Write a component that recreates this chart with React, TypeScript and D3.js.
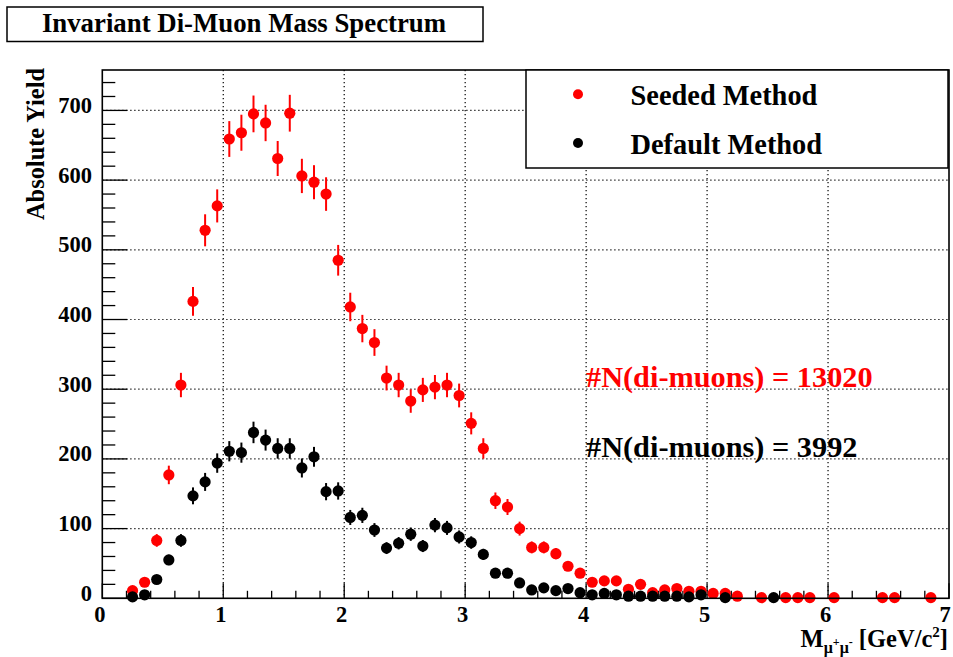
import React from "react";
import * as d3 from "d3";

// Bin centers (GeV/c^2) and yields
const seededX = [0.25,0.35,0.45,0.55,0.65,0.75,0.85,0.95,1.05,1.15,1.25,1.35,1.45,1.55,1.65,1.75,1.85,1.95,2.05,2.15,2.25,2.35,2.45,2.55,2.65,2.75,2.85,2.95,3.05,3.15,3.25,3.35,3.45,3.55,3.65,3.75,3.85,3.95,4.05,4.15,4.25,4.35,4.45,4.55,4.65,4.75,4.85,4.95,5.05,5.15,5.25,5.45,5.65,5.75,5.85,6.05,6.45,6.55,6.85];
const seededY = [11,23,83,177,306,426,528,563,659,668,695,682,631,696,606,597,580,485,418,387,367,316,306,283,299,303,306,291,251,215,140,131,100,73,73,64,46,36,23,25,25,13,20,8,12,14,10,10,7,7,3,1,1,1,1,1,1,1,1];

const defaultX = [0.25,0.35,0.45,0.55,0.65,0.75,0.85,0.95,1.05,1.15,1.25,1.35,1.45,1.55,1.65,1.75,1.85,1.95,2.05,2.15,2.25,2.35,2.45,2.55,2.65,2.75,2.85,2.95,3.05,3.15,3.25,3.35,3.45,3.55,3.65,3.75,3.85,3.95,4.05,4.15,4.25,4.35,4.45,4.55,4.65,4.75,4.85,4.95,5.15,5.55];
const defaultY = [2,5,27,55,83,147,167,194,211,209,238,227,215,215,187,203,153,154,116,119,98,72,79,92,75,105,101,88,80,63,36,36,22,12,15,11,14,8,5,7,5,3,3,3,3,3,2,5,1,1];

const xTicks = [0,1,2,3,4,5,6,7];
const yTicks = [0,100,200,300,400,500,600,700];
const xMinor = d3.range(0, 7.0001, 0.2);
const yMinor = d3.range(0, 751, 20);

const titleText = "Invariant Di-Muon Mass Spectrum";
const legendLabels = ["Seeded Method", "Default Method"];
const countLabels = ["#N(di-muons) = 13020", "#N(di-muons) = 3992"];

const FONT = "'Liberation Serif', 'Times New Roman', Tinos, serif";

export default function App() {
  const W = 953, H = 657;
  const left = 102.3, right = 949, top = 70, bottom = 598.3;
  const x = d3.scaleLinear().domain([0, 7]).range([left, right]);
  const y = d3.scaleLinear().domain([0, 758]).range([bottom, top]);
  const r = 5.6;
  const tf = (size: number, color = "#000") => ({ fontFamily: FONT, fontWeight: "bold" as const, fontSize: size + "px", fill: color });

  const series = [
    { xs: seededX, ys: seededY, color: "#ff0000" },
    { xs: defaultX, ys: defaultY, color: "#000000" },
  ];

  return (
    <svg width={W} height={H} style={{ position: "absolute", left: 0, top: 0, background: "#fff", fontFamily: FONT }}>
      <rect x={0} y={0} width={W} height={H} fill="#fff" />
      {/* grid */}
      {xTicks.slice(1, -1).map((t) => (
        <line key={"gx" + t} x1={x(t)} x2={x(t)} y1={top} y2={bottom} stroke="#000" strokeWidth={1.2} strokeDasharray="1.2,2.8" />
      ))}
      {yTicks.slice(1).map((t) => (
        <line key={"gy" + t} x1={left} x2={right} y1={y(t)} y2={y(t)} stroke="#000" strokeWidth={1.2} strokeDasharray="1.2,2.8" />
      ))}
      {/* ticks */}
      {xMinor.map((t, i) => {
        const major = i % 5 === 0;
        return <line key={"tx" + i} x1={x(t)} x2={x(t)} y1={bottom} y2={bottom - (major ? 15 : 7.5)} stroke="#000" strokeWidth={1.3} />;
      })}
      {yMinor.map((t, i) => {
        const major = i % 5 === 0;
        return <line key={"ty" + i} x1={left} x2={left + (major ? 25 : 13)} y1={y(t)} y2={y(t)} stroke="#000" strokeWidth={1.3} />;
      })}
      {/* data */}
      {series.map((s, si) => (
        <g key={"s" + si}>
          {s.xs.map((xv, i) => {
            const v = s.ys[i];
            const e = Math.sqrt(v);
            return (
              <g key={i}>
                <line x1={x(xv)} x2={x(xv)} y1={y(v + e)} y2={y(Math.max(0, v - e))} stroke={s.color} strokeWidth={2} />
                <circle cx={x(xv)} cy={y(v)} r={r} fill={s.color} />
              </g>
            );
          })}
        </g>
      ))}
      {/* frame */}
      <rect x={left} y={top} width={right - left} height={bottom - top} fill="none" stroke="#000" strokeWidth={1.6} />
      {/* tick labels */}
      {xTicks.map((t) => (
        <text key={"lx" + t} x={x(t) - (t === 7 ? 4 : 2.5)} y={622} textAnchor="middle" style={tf(22.5)}>{t}</text>
      ))}
      {yTicks.map((t) => (
        <text key={"ly" + t} x={92} y={y(t) + 2.5} textAnchor="end" style={tf(22.5)}>{t}</text>
      ))}
      {/* axis titles */}
      <text transform="translate(44,68) rotate(-90)" textAnchor="end" style={tf(24.4)}>Absolute Yield</text>
      <text x={948} y={647} textAnchor="end" style={tf(24.5)}>
        M
        <tspan style={{ fontSize: "16px" }} dy={6}>{"\u03bc"}</tspan>
        <tspan style={{ fontSize: "12px" }} dy={-7}>+</tspan>
        <tspan style={{ fontSize: "16px" }} dy={7}>{"\u03bc"}</tspan>
        <tspan style={{ fontSize: "12px" }} dy={-7}>-</tspan>
        <tspan style={{ fontSize: "24.5px" }} dy={1}>{" [GeV/c"}</tspan>
        <tspan style={{ fontSize: "15px" }} dy={-10}>2</tspan>
        <tspan style={{ fontSize: "24.5px" }} dy={10}>]</tspan>
      </text>
      {/* title box */}
      <rect x={7} y={7} width={476} height={34.5} fill="#fff" stroke="#000" strokeWidth={1.5} />
      <text x={244} y={31.5} textAnchor="middle" style={tf(26.8)}>{titleText}</text>
      {/* legend */}
      <rect x={526} y={70} width={422} height={98} fill="#fff" stroke="#000" strokeWidth={1.5} />
      <circle cx={578} cy={94.3} r={5} fill="#ff0000" />
      <text x={630.5} y={105} style={tf(28.4)}>{legendLabels[0]}</text>
      <circle cx={578} cy={143} r={5} fill="#000" />
      <text x={630.5} y={154.3} style={tf(28.4)}>{legendLabels[1]}</text>
      {/* counts */}
      <text x={586} y={386.5} style={tf(30.3, "#ff0000")}>{countLabels[0]}</text>
      <text x={586} y={456.7} style={tf(30.3)}>{countLabels[1]}</text>
    </svg>
  );
}
